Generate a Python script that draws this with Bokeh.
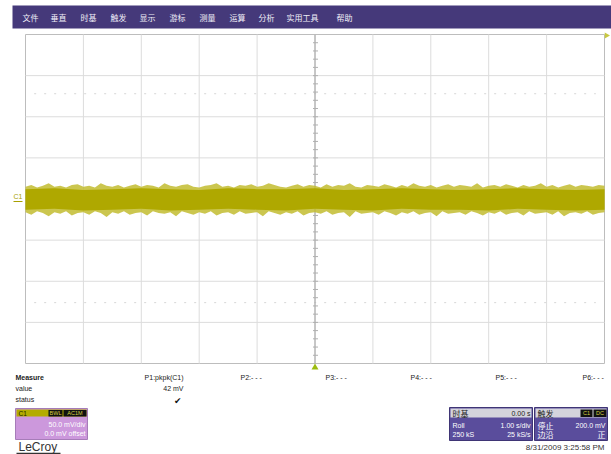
from bokeh.plotting import figure
from bokeh.models import Range1d
from bokeh.core.properties import value
from bokeh.embed import file_html
from bokeh.resources import INLINE

# ---- acquisition data (C1, roll mode, 1 s/div, 50 mV/div) ----
t_start, t_step = -5.0, 0.1          # s
# upper / lower envelope of the noise band, mV, one value per 0.1 s
env_upper = [15, 17, 14, 16, 19, 15, 16, 14, 17, 18, 15, 16, 14, 19, 16, 15, 17, 14, 16, 18,
             15, 17, 16, 14, 19, 16, 15, 17, 18, 15, 14, 16, 17, 19, 15, 16, 14, 17, 16, 18,
             15, 16, 19, 17, 15, 14, 16, 18, 15, 17, 16, 14, 18, 15, 17, 16, 19, 15, 14, 17,
             16, 15, 18, 16, 14, 17, 15, 19, 16, 15, 17, 14, 16, 18, 15, 17, 16, 15, 19, 14,
             16, 17, 15, 18, 16, 14, 17, 15, 16, 19, 15, 17, 14, 16, 18, 15, 17, 16, 15, 17, 16]
env_lower = [-16, -19, -15, -17, -21, -16, -18, -15, -20, -17, -16, -19, -15, -17, -22, -16, -18, -15, -19, -17,
             -16, -20, -15, -17, -18, -16, -21, -15, -17, -19, -16, -18, -15, -20, -17, -16, -19, -15, -18, -17,
             -16, -21, -15, -17, -19, -16, -18, -15, -20, -17, -16, -18, -15, -19, -17, -16, -22, -15, -18, -17,
             -16, -19, -15, -17, -20, -16, -18, -15, -19, -17, -16, -21, -15, -18, -17, -16, -19, -15, -17, -20,
             -16, -18, -15, -19, -17, -16, -20, -15, -18, -17, -16, -19, -15, -21, -17, -16, -18, -15, -19, -17, -16]
times = [t_start + i * t_step for i in range(len(env_upper))]

# dense core of the band, mV, one value per 0.5 s
core_step = 0.5
core_upper = [12, 13, 11, 12, 13, 12, 11, 13, 12, 12, 13, 11, 12, 13, 12, 11, 12, 13, 12, 11, 12]
core_lower = [-13, -12, -14, -13, -12, -14, -13, -12, -13, -14, -12, -13, -14, -12, -13, -13, -14, -12, -13, -14, -13]
core_times = [t_start + i * core_step for i in range(len(core_upper))]

menu_items = ["文件", "垂直", "时基", "触发", "显示", "游标", "测量", "运算", "分析", "实用工具", "帮助"]
param_labels = ["P1:pkpk(C1)", "P2:- - -", "P3:- - -", "P4:- - -", "P5:- - -", "P6:- - -"]
p1_value = 42  # mV

# ---- screen geometry ----
W, H = 611, 454
GX0, GX1 = 25, 604        # graticule left/right (px)
GY0, GY1 = 34, 363        # graticule top/bottom (px)
T_MIN, T_MAX = -5.0, 5.0  # 10 div x 1 s/div
V_MIN, V_MAX = -200.0, 200.0  # 8 div x 50 mV/div

sx = (GX1 - GX0) / (T_MAX - T_MIN)
sy = (GY1 - GY0) / (V_MAX - V_MIN)


def X(px):
    return T_MIN + (px - GX0) / sx


def Y(py):
    return V_MAX - (py - GY0) / sy


p = figure(width=W, height=H, x_range=Range1d(X(0), X(W)), y_range=Range1d(Y(H), Y(0)),
           x_axis_type=None, y_axis_type=None, output_backend="svg", toolbar_location=None,
           min_border=0)
p.outline_line_color = None
p.background_fill_color = "white"
p.border_fill_color = "white"

CJK = value("Noto Sans CJK SC")
SANS = value("Liberation Sans")


def box(x0, y0, x1, y1, color, line=None):
    p.quad(left=[X(x0)], right=[X(x1)], top=[Y(y0)], bottom=[Y(y1)],
           fill_color=color, line_color=line)


def txt(x, y, s, size="7px", color="#222222", align="left", font=SANS, style="normal"):
    p.text(x=[X(x)], y=[Y(y)], text=[s], text_font=font, text_font_size=size,
           text_color=color, text_align=align, text_baseline="middle", text_font_style=style)


# ---- menu bar ----
box(12, 5, W, 28, "#45397a")
menu_x = [22, 50, 80, 110, 139, 169, 199, 229, 258, 286, 336]
for mx, s in zip(menu_x, menu_items):
    txt(mx, 17, s, size="8px", color="#f0eef8", font=CJK)

# ---- graticule ----
box(GX0, GY0, GX1, GY1, "white", line="#bdbdbd")
p.segment(x0=[T_MIN + i for i in range(1, 10)], x1=[T_MIN + i for i in range(1, 10)],
          y0=V_MIN, y1=V_MAX, line_color="#dcdcdc", line_width=1)
p.segment(x0=T_MIN, x1=T_MAX, y0=[V_MIN + 50 * i for i in range(1, 8)],
          y1=[V_MIN + 50 * i for i in range(1, 8)], line_color="#dcdcdc", line_width=1)
# faint dotted rows
for v in (128, -126):
    p.line([T_MIN + 0.15, T_MAX - 0.15], [v, v], line_color="#d6d6d6", line_dash="2 8", line_width=1)
# centre axes with minor ticks
p.line([0, 0], [V_MIN, V_MAX], line_color="#a0a0a0", line_width=1)
p.line([T_MIN, T_MAX], [0, 0], line_color="#a8a8a8", line_width=1)
ticks_v = [V_MIN + 10 * i for i in range(1, 40)]
p.segment(x0=X(312.5), x1=X(317.5), y0=ticks_v, y1=ticks_v, line_color="#b0b0b0", line_width=1)

# ---- waveform ----
p.varea(x=times, y1=env_lower, y2=env_upper, fill_color="#c2bc30", fill_alpha=0.85)
p.varea(x=core_times, y1=core_lower, y2=core_upper, fill_color="#afa800")

# trigger / channel markers
p.scatter(x=[0], y=[Y(367)], marker="triangle", size=7, fill_color="#9cbc10", line_color=None)
p.scatter(x=[X(606)], y=[Y(35)], marker="triangle", angle=-1.57, size=6, fill_color="#c8c840", line_color=None)
txt(13, 196, "C1", size="7px", color="#a8a000")
p.line([X(13), X(22)], [Y(201), Y(201)], line_color="#a8a000", line_width=1)

# ---- measurement table ----
txt(15, 377, "Measure", style="bold")
txt(15, 388, "value")
txt(15, 399, "status")
param_x = [183, 240, 325, 410, 495, 582]
txt(param_x[0], 377, param_labels[0], align="right")
for px_, s in zip(param_x[1:], param_labels[1:]):
    txt(px_, 377, s)
txt(183, 388, f"{p1_value} mV", align="right")
txt(181, 400, "✔", size="9px", color="#111111", align="right", font=value("DejaVu Sans"))

# ---- channel descriptor ----
box(15, 408, 87, 439, "#cc98dc", line="#a67cb8")
box(16, 409, 86, 416, "#b3ac00")
txt(18, 412.5, "C1", size="6.5px", color="#222200")
box(48, 409.5, 62, 416, "#111111")
txt(55, 412.8, "BWL", size="5.5px", color="#d8d040", align="center")
box(63, 409.5, 86, 416, "#111111")
txt(74.5, 412.8, "AC1M", size="5.5px", color="#d8d040", align="center")
txt(85, 424, "50.0 mV/div", size="7px", color="white", align="right")
txt(85, 433, "0.0 mV offset", size="7px", color="white", align="right")

txt(18, 446, "LeCroy", size="12px", color="#333333")
p.line([X(16), X(60)], [Y(453), Y(453)], line_color="#333333", line_width=1.5)

# ---- timebase descriptor ----
box(449, 407, 532, 440, "#5a4d9c", line="#3f3575")
box(450, 408, 531, 417, "#d4d4dc")
txt(452, 412.5, "时基", size="8px", color="#222222", font=CJK)
txt(530, 412.5, "0.00 s", size="7px", color="#222222", align="right")
txt(452, 425, "Roll", size="7px", color="white")
txt(530, 425, "1.00 s/div", size="7px", color="white", align="right")
txt(452, 434, "250 kS", size="7px", color="white")
txt(530, 434, "25 kS/s", size="7px", color="white", align="right")

# ---- trigger descriptor ----
box(534, 407, 607, 440, "#5a4d9c", line="#3f3575")
box(535, 408, 606, 417, "#d4d4dc")
txt(537, 412.5, "触发", size="8px", color="#222222", font=CJK)
box(580, 409, 592, 416.5, "#111111")
txt(586, 412.8, "C1", size="5.5px", color="#d8d040", align="center")
box(593, 409, 606, 416.5, "#111111")
txt(599.5, 412.8, "DC", size="5.5px", color="#d8d040", align="center")
txt(537, 425, "停止", size="8px", color="white", font=CJK)
txt(605, 425, "200.0 mV", size="7px", color="white", align="right")
txt(537, 434, "边沿", size="8px", color="white", font=CJK)
txt(605, 434, "正", size="8px", color="white", align="right", font=CJK)

txt(604, 447, "8/31/2009 3:25:58 PM", size="8px", color="#333333", align="right")

open("out.html", "w").write(file_html(p, INLINE))
